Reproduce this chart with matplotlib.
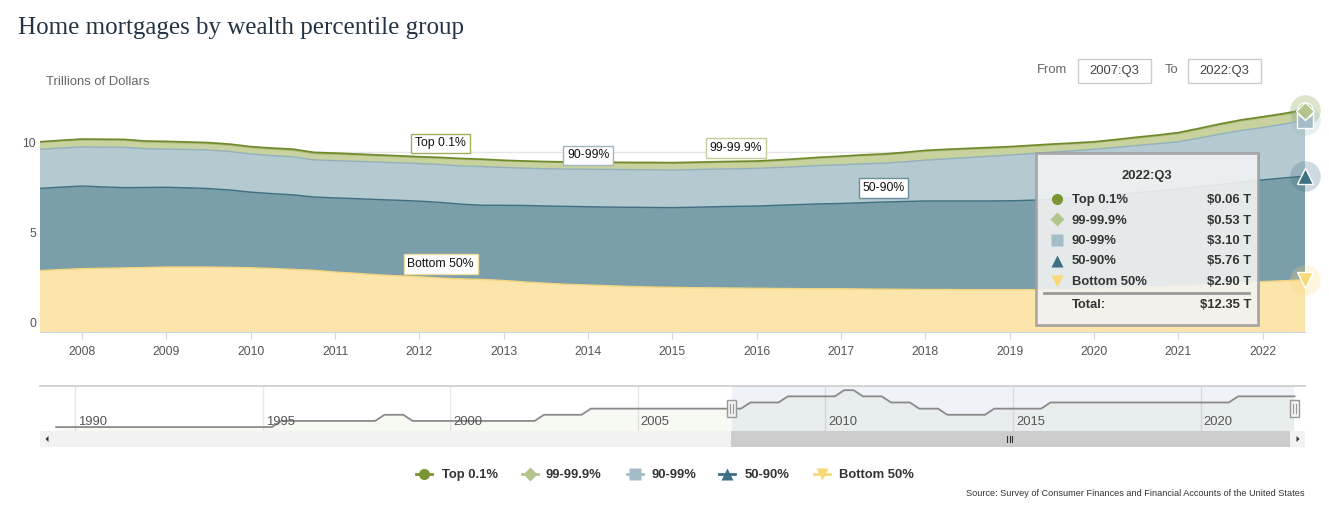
import matplotlib.pyplot as plt
import numpy as np
from matplotlib.patches import Rectangle, Polygon
from matplotlib.lines import Line2D

plt.rcParams['font.family'] = ['Liberation Sans', 'DejaVu Sans']

# quarterly values, trillions of dollars, 2007:Q3 .. 2022:Q3
bottom_50 = [3.41, 3.47, 3.52, 3.54, 3.56, 3.58, 3.61, 3.61, 3.61, 3.59,
             3.57, 3.53, 3.48, 3.43, 3.33, 3.26, 3.18, 3.12, 3.07, 3.00,
             2.95, 2.92, 2.86, 2.78, 2.71, 2.65, 2.61, 2.57, 2.53, 2.50,
             2.48, 2.46, 2.45, 2.44, 2.43, 2.42, 2.41, 2.40, 2.40, 2.39,
             2.38, 2.37, 2.36, 2.36, 2.35, 2.35, 2.35, 2.35, 2.36, 2.38,
             2.40, 2.44, 2.48, 2.52, 2.57, 2.61, 2.66, 2.73, 2.80, 2.85,
             2.90]
p50_90 = [4.57, 4.58, 4.59, 4.52, 4.46, 4.45, 4.43, 4.40, 4.36, 4.30,
          4.20, 4.16, 4.14, 4.07, 4.12, 4.15, 4.18, 4.20, 4.20, 4.20,
          4.15, 4.12, 4.18, 4.25, 4.29, 4.33, 4.35, 4.37, 4.40, 4.42,
          4.43, 4.47, 4.51, 4.54, 4.57, 4.62, 4.67, 4.72, 4.74, 4.79,
          4.84, 4.88, 4.92, 4.92, 4.93, 4.93, 4.94, 4.97, 5.02, 5.07,
          5.15, 5.20, 5.26, 5.32, 5.38, 5.46, 5.54, 5.60, 5.65, 5.71,
          5.76]
p90_99 = [2.17, 2.17, 2.17, 2.21, 2.24, 2.15, 2.12, 2.13, 2.14, 2.14,
          2.12, 2.11, 2.11, 2.06, 2.07, 2.07, 2.08, 2.08, 2.09, 2.10,
          2.12, 2.15, 2.10, 2.07, 2.07, 2.07, 2.08, 2.09, 2.09, 2.09,
          2.09, 2.09, 2.09, 2.09, 2.09, 2.10, 2.11, 2.13, 2.15, 2.16,
          2.16, 2.20, 2.27, 2.34, 2.41, 2.48, 2.54, 2.59, 2.61, 2.62,
          2.60, 2.61, 2.62, 2.62, 2.62, 2.71, 2.80, 2.87, 2.91, 2.99,
          3.10]
p99_999 = [0.38, 0.39, 0.39, 0.39, 0.39, 0.38, 0.37, 0.36, 0.35, 0.35,
           0.35, 0.36, 0.36, 0.35, 0.36, 0.35, 0.34, 0.34, 0.33, 0.35,
           0.38, 0.37, 0.36, 0.37, 0.37, 0.37, 0.37, 0.37, 0.36, 0.37,
           0.37, 0.37, 0.37, 0.37, 0.36, 0.37, 0.39, 0.41, 0.43, 0.45,
           0.46, 0.48, 0.49, 0.48, 0.46, 0.44, 0.42, 0.41, 0.40, 0.38,
           0.37, 0.39, 0.41, 0.43, 0.45, 0.48, 0.51, 0.53, 0.54, 0.53,
           0.53]
# Top 0.1% full history 1989:Q3 .. 2022:Q3, stored as (level, quarters) runs
top01_levels = [0.01, 0.02, 0.03, 0.02, 0.03, 0.04, 0.05, 0.06, 0.07, 0.06,
                0.05, 0.04, 0.03, 0.04, 0.05, 0.06]
top01_runs = [24, 11, 3, 14, 5, 17, 4, 6, 2, 3, 3, 3, 5, 6, 20, 7]

series_names = ['Top 0.1%', '99-99.9%', '90-99%', '50-90%', 'Bottom 50%']
line_colors = ['#6f8a2c', '#a9ba74', '#93b0bb', '#3f6f82', '#f3d57f']
marker_colors = ['#7b9535', '#b3c58c', '#a3bcc6', '#3f6f82', '#f8d978']
fill_colors = ['#8c9d52', '#c7d29f', '#b4c9d0', '#7a9eaa', '#fbe5ab']
markers = ['o', 'D', 's', '^', 'v']
year_ticks = list(range(2008, 2023))
nav_ticks = [1990, 1995, 2000, 2005, 2010, 2015, 2020]

top01_all = np.repeat(top01_levels, top01_runs)
nav_x = 1989.5 + 0.25 * np.arange(len(top01_all))
x = 2007.5 + 0.25 * np.arange(len(bottom_50))
top01 = top01_all[-len(bottom_50):]

W, H = 1329, 511
fig = plt.figure(figsize=(W / 100, H / 100), dpi=100)


def fx(px):
    return px / W


def fy(py):
    return 1 - py / H


# ---- main chart
ax = fig.add_axes([fx(40), fy(332), fx(1305) - fx(40), fy(102) - fy(332)])
ax.set_xlim(2007.5, 2022.5)
ax.set_ylim(0, 230 / 18)
for v in [5, 10]:
    ax.axhline(v, color='#e6e6e6', lw=1, zorder=0)

stack = [bottom_50, p50_90, p90_99, p99_999, top01]
ax.stackplot(x, *stack, colors=fill_colors[::-1], lw=0, zorder=1)
cum = np.cumsum(np.array(stack, dtype=float), axis=0)
for i, c in enumerate(line_colors[::-1]):
    ax.plot(x, cum[i], color=c, lw=1.2 if i == 4 else 1, zorder=2)

for s in ['top', 'right', 'left']:
    ax.spines[s].set_visible(False)
ax.spines['bottom'].set_color('#ccd6eb')
ax.set_yticks([])
ax.set_xticks(year_ticks)
ax.set_xticklabels([str(y) for y in year_ticks])
ax.tick_params(axis='x', length=5, color='#ccd6eb', pad=5, labelsize=8.8, labelcolor='#555555')
for v in [0, 5, 10]:
    ax.annotate(str(v), xy=(0, v), xycoords=('axes fraction', 'data'), xytext=(-4, 8),
                textcoords='offset pixels', ha='right', va='center', fontsize=8.8, color='#555555')

# callout labels
callouts = [('Top 0.1%', 2012.25, 4, '#a4ad5d'),
            ('90-99%', 2014.0, 2, '#9fb6c0'),
            ('99-99.9%', 2015.75, 3, '#c4cc98'),
            ('50-90%', 2017.5, 1, '#6b8e9a'),
            ('Bottom 50%', 2012.25, 0, '#f0dea0')]
for txt, yr, lvl, ec in callouts:
    idx = int(round((yr - 2007.5) / 0.25))
    ax.annotate(txt, xy=(yr, cum[lvl][idx]), xytext=(0, 14), textcoords='offset pixels',
                ha='center', va='center', fontsize=8.8, color='#111111', zorder=6,
                bbox=dict(boxstyle='square,pad=0.3', fc='white', ec=ec, lw=1))

# hover markers at the last point
end_vals = [cum[4][-1], cum[3][-1], cum[2][-1], cum[1][-1], cum[0][-1]]
for k, (mk, mc, yv) in enumerate(zip(markers, marker_colors, end_vals)):
    if k != 1:
        ax.plot(x[-1], yv, 'o', ms=22, color=mc, alpha=0.25, mec='none', clip_on=False, zorder=7)
for k in [4, 3, 2, 0, 1]:
    ax.plot(x[-1], end_vals[k], markers[k], ms=11 if markers[k] != 'D' else 9, color=marker_colors[k],
            mec='white', mew=1, clip_on=False, zorder=8)

# ---- texts on top
fig.text(fx(18), fy(28), 'Home mortgages by wealth percentile group', fontsize=18,
         family=['Liberation Serif', 'DejaVu Serif'], color='#253444', va='center')
fig.text(fx(46), fy(82), 'Trillions of Dollars', fontsize=9.4, color='#666666', va='center')
fig.text(fx(1037), fy(70), 'From', fontsize=9.4, color='#666666', va='center')
fig.text(fx(1165), fy(70), 'To', fontsize=9.4, color='#666666', va='center')
for x0, txt in [(1078, '2007:Q3'), (1188, '2022:Q3')]:
    fig.add_artist(Rectangle((fx(x0), fy(83)), 73 / W, 24 / H, transform=fig.transFigure,
                             fc='white', ec='#cccccc', lw=1))
    fig.text(fx(x0 + 36.5), fy(71), txt, fontsize=9.4, color='#444444', ha='center', va='center')

# ---- tooltip
fig.add_artist(Rectangle((fx(1038), fy(327)), 222 / W, 172 / H, transform=fig.transFigure,
                         fc='#000000', alpha=0.12, ec='none', zorder=9))
fig.add_artist(Rectangle((fx(1036), fy(325)), 222 / W, 172 / H, transform=fig.transFigure,
                         fc='#f7f7f7', alpha=0.88, ec='#a0a0a0', lw=2, zorder=10))
fig.text(fx(1147), fy(176), '2022:Q3', fontsize=9.4, weight='bold', color='#333333',
         ha='center', va='center', zorder=11)
tip_vals = [top01[-1], p99_999[-1], p90_99[-1], p50_90[-1], bottom_50[-1]]
for k, (name, v) in enumerate(zip(series_names, tip_vals)):
    yy = 199 + k * 20.5
    fig.add_artist(Line2D([fx(1057)], [fy(yy)], marker=markers[k], ms=8 if markers[k] != 'D' else 7,
                          color=marker_colors[k], mec='none', transform=fig.transFigure, zorder=11))
    fig.text(fx(1072), fy(yy + 1), name, fontsize=9.4, weight='bold', color='#333333', va='center', zorder=11)
    fig.text(fx(1251), fy(yy + 1), f'${v:.2f} T', fontsize=9.4, weight='bold', color='#333333',
             ha='right', va='center', zorder=11)
fig.add_artist(Line2D([fx(1044), fx(1249)], [fy(293), fy(293)], color='#999999', lw=2,
                      transform=fig.transFigure, zorder=11))
fig.text(fx(1072), fy(305), 'Total:', fontsize=9.4, weight='bold', color='#333333', va='center', zorder=11)
fig.text(fx(1251), fy(305), f'${sum(tip_vals):.2f} T', fontsize=9.4, weight='bold', color='#333333',
         ha='right', va='center', zorder=11)

# ---- navigator
fig.add_artist(Line2D([fx(40), fx(1305)], [fy(386), fy(386)], color='#cccccc', lw=1.2,
                      transform=fig.transFigure))
nav = fig.add_axes([fx(40), fy(431), fx(1305) - fx(40), fy(387) - fy(431)])
nav.set_xlim(1989.07, 2022.78)
nav.set_ylim(0.0036, 0.0752)
for t in nav_ticks:
    nav.axvline(t, color='#e6e6e6', lw=1, zorder=0)
    nav.annotate(str(t), xy=(t, 0.2), xycoords=('data', 'axes fraction'), xytext=(3, 0),
                 textcoords='offset pixels', ha='left', va='center', fontsize=9.4, color='#555555')
nav.fill_between(nav_x, top01_all, 0, color='#9aaa60', alpha=0.07, lw=0)
nav.plot(nav_x, top01_all, color='#8a8a8a', lw=1.3)
nav.axvspan(2007.5, 2022.5, color='#6685c2', alpha=0.1, lw=0)
nav.set_xticks([])
nav.set_yticks([])
for s in nav.spines.values():
    s.set_visible(False)

# handles
for hx in [731.5, 1294.5]:
    fig.add_artist(Rectangle((fx(hx - 4.5), fy(417)), 9 / W, 17 / H, transform=fig.transFigure,
                             fc='#f2f2f2', ec='#999999', lw=1, zorder=5))
    for dx in [-1.5, 1.5]:
        fig.add_artist(Line2D([fx(hx + dx)] * 2, [fy(404), fy(413)], color='#999999', lw=0.8,
                              transform=fig.transFigure, zorder=6))

# scrollbar
fig.add_artist(Rectangle((fx(40), fy(447)), 1265 / W, 16 / H, transform=fig.transFigure,
                         fc='#f2f2f2', ec='none'))
fig.add_artist(Rectangle((fx(731), fy(447)), 559 / W, 16 / H, transform=fig.transFigure,
                         fc='#cccccc', ec='none'))
for gx in [1007, 1009.5, 1012]:
    fig.add_artist(Line2D([fx(gx)] * 2, [fy(436), fy(442)], color='#333333', lw=0.8,
                          transform=fig.transFigure))
fig.add_artist(Polygon([[fx(45.5), fy(439)], [fx(48.5), fy(436)], [fx(48.5), fy(442)]],
                       closed=True, fc='#333333', ec='none', transform=fig.transFigure))
fig.add_artist(Polygon([[fx(1299.5), fy(439)], [fx(1296.5), fy(436)], [fx(1296.5), fy(442)]],
                       closed=True, fc='#333333', ec='none', transform=fig.transFigure))

# ---- legend
leg_x = [424, 530, 635, 727, 822]
leg_tx = [442, 546, 651, 745, 839]
for k in range(5):
    fig.add_artist(Line2D([fx(leg_x[k] - 8), fx(leg_x[k] + 8)], [fy(474)] * 2, color=marker_colors[k],
                          lw=2, transform=fig.transFigure))
    fig.add_artist(Line2D([fx(leg_x[k])], [fy(474)], marker=markers[k], ms=8 if markers[k] != 'D' else 7,
                          color=marker_colors[k], mec='none', transform=fig.transFigure))
    fig.text(fx(leg_tx[k]), fy(475), series_names[k], fontsize=9.4, weight='bold', color='#333333',
             va='center')

fig.text(fx(1305), fy(493), 'Source: Survey of Consumer Finances and Financial Accounts of the United States',
         fontsize=6.6, color='#333333', ha='right', va='center')

fig.savefig('out.png', dpi=100)
